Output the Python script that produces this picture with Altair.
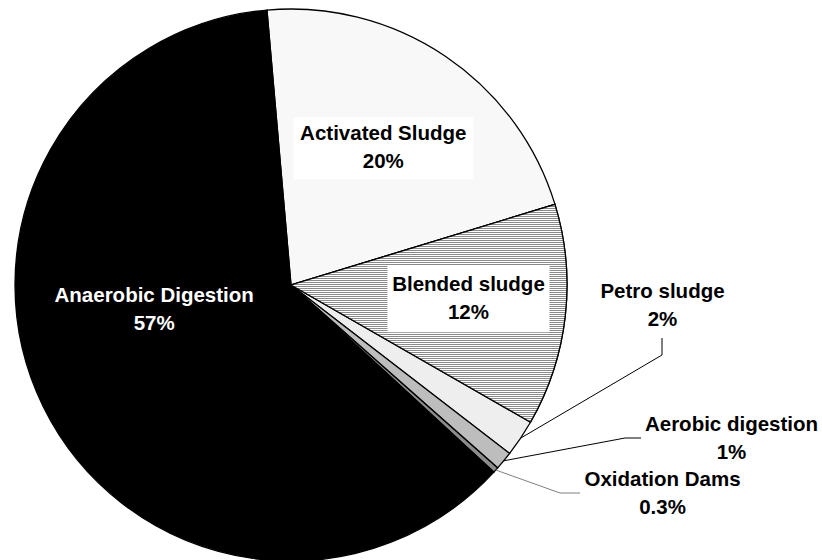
import math

import altair as alt
import pandas as pd

# Sludge treatment categories, listed clockwise from the top of the pie
categories = [
    "Activated Sludge",
    "Blended sludge",
    "Petro sludge",
    "Aerobic digestion",
    "Oxidation Dams",
    "Anaerobic Digestion",
]
shares = [20, 12, 2, 1, 0.3, 57]
share_labels = ["20%", "12%", "2%", "1%", "0.3%", "57%"]

# Styling and geometry
W, H = 822, 560
CX, CY, R = 291, 285, 276
START_DEG = 355  # angle of the first slice edge, clockwise from 12 o'clock
FONT = "Liberation Sans"
FONT_SIZE = 20.5
LINE_H = 28
FILLS = {
    "Activated Sludge": "#f8f8f8",
    "Blended sludge": "#c4c4c4",
    "Petro sludge": "#eeeeee",
    "Aerobic digestion": "#bdbdbd",
    "Oxidation Dams": "#8c8c8c",
    "Anaerobic Digestion": "#000000",
}

total = sum(shares)
starts, ends = [], []
acc = 0.0
for v in shares:
    starts.append(acc)
    acc += v
    ends.append(acc)


def to_deg(v):
    return START_DEG + 360.0 * v / total


def polar(deg, r):
    a = math.radians(deg)
    return CX + r * math.sin(a), CY - r * math.cos(a)


slices = pd.DataFrame({
    "category": categories,
    "share": shares,
    "t0": starts,
    "t1": ends,
    "fill": [FILLS[c] for c in categories],
})

theta_scale = alt.Scale(
    domain=[0, total],
    range=[math.radians(START_DEG), math.radians(START_DEG) + 2 * math.pi],
)

base_arc = dict(outerRadius=R, stroke="#000000", strokeWidth=1.3)

pie = alt.Chart(slices).mark_arc(**base_arc).encode(
    theta=alt.Theta("t0:Q", scale=theta_scale),
    theta2=alt.Theta2("t1:Q"),
    fill=alt.Fill("fill:N", scale=None, legend=None),
    x=alt.value(CX),
    y=alt.value(CY),
)

# Horizontal hatching for the blended-sludge slice, one pixel row per stripe
bi = categories.index("Blended sludge")
a0, a1 = to_deg(starts[bi]), to_deg(ends[bi])
ys = [0.0, -R * math.cos(math.radians(a0)), -R * math.cos(math.radians(a1))]
top, bottom = CY + min(ys), CY + max(ys)
span = bottom - top
stops = []
row = math.floor(top)
while row < bottom:
    o0 = min(max((row - top) / span, 0.0), 1.0)
    o1 = min(max((row + 1 - top) / span, 0.0), 1.0)
    col = "#8a8a8a" if row % 2 == 0 else "#ffffff"
    stops.append(alt.GradientStop(offset=o0, color=col))
    stops.append(alt.GradientStop(offset=o1, color=col))
    row += 1
hatch = alt.LinearGradient(gradient="linear", stops=stops, x1=0, x2=0, y1=0, y2=1)

blended = alt.Chart(slices).transform_filter(
    alt.datum.category == "Blended sludge"
).mark_arc(fill=hatch, **base_arc).encode(
    theta=alt.Theta("t0:Q", scale=theta_scale),
    theta2=alt.Theta2("t1:Q"),
    x=alt.value(CX),
    y=alt.value(CY),
)

# Labels placed inside their slices: radius, angle nudge, box size, text colour
inside = {
    "Activated Sludge": (165, 0, 180, 62, "#000000"),
    "Blended sludge": (178, -2, 162, 67, "#000000"),
    "Anaerobic Digestion": (139, 16, 0, 0, "#ffffff"),
}
# Labels placed outside with leader lines: text centre, elbow points, line colour
outside = {
    "Petro sludge": ((662.5, 306), [(662, 355), (662, 338)], "#000000"),
    "Aerobic digestion": ((731.5, 438.5), [(625, 438), (641, 438)], "#000000"),
    "Oxidation Dams": ((662.5, 493.5), [(560, 493), (580, 493)], "#808080"),
}

label_rows, box_rows, line_rows = [], [], []
for i, c in enumerate(categories):
    mid = to_deg((starts[i] + ends[i]) / 2)
    text = c + "\n" + share_labels[i]
    if c in inside:
        r, nudge, bw, bh, tc = inside[c]
        lx, ly = polar(mid + nudge, r)
        if bw:
            box_rows.append({"x": lx - bw / 2, "x2": lx + bw / 2,
                             "y": ly - bh / 2, "y2": ly + bh / 2})
    else:
        (lx, ly), elbows, lc = outside[c]
        tc = "#000000"
        ex, ey = polar(mid, R)
        pts = [(ex, ey)] + elbows
        for k, (px, py) in enumerate(pts):
            line_rows.append({"category": c, "k": k, "x": px, "y": py, "lc": lc})
    # two-line block: first line sits half a line above the block centre
    label_rows.append({"text": text, "x": lx, "y": ly - LINE_H / 2, "tc": tc})

labels = pd.DataFrame(label_rows)
boxes = pd.DataFrame(box_rows)
leaders = pd.DataFrame(line_rows)

px_x = dict(scale=None, axis=None)
px_y = dict(scale=None, axis=None)

box_layer = alt.Chart(boxes).mark_rect(fill="#ffffff").encode(
    x=alt.X("x:Q", **px_x), x2="x2:Q",
    y=alt.Y("y:Q", **px_y), y2="y2:Q",
)

leader_layer = alt.Chart(leaders).mark_line(strokeWidth=1).encode(
    x=alt.X("x:Q", **px_x),
    y=alt.Y("y:Q", **px_y),
    detail="category:N",
    order="k:Q",
    stroke=alt.Stroke("lc:N", scale=None, legend=None),
)

text_layer = alt.Chart(labels).mark_text(
    font=FONT, fontSize=FONT_SIZE, fontWeight="bold", lineBreak="\n",
    lineHeight=LINE_H, align="center", baseline="middle",
).encode(
    x=alt.X("x:Q", **px_x),
    y=alt.Y("y:Q", **px_y),
    text="text:N",
    fill=alt.Fill("tc:N", scale=None, legend=None),
)

chart = alt.layer(pie, blended, box_layer, leader_layer, text_layer).properties(
    width=W, height=H, padding=0,
    autosize=alt.AutoSizeParams(type="none"),
    background="#ffffff",
).configure_view(stroke=None)

chart.save("out.html", embed_options={"renderer": "svg", "actions": False})
